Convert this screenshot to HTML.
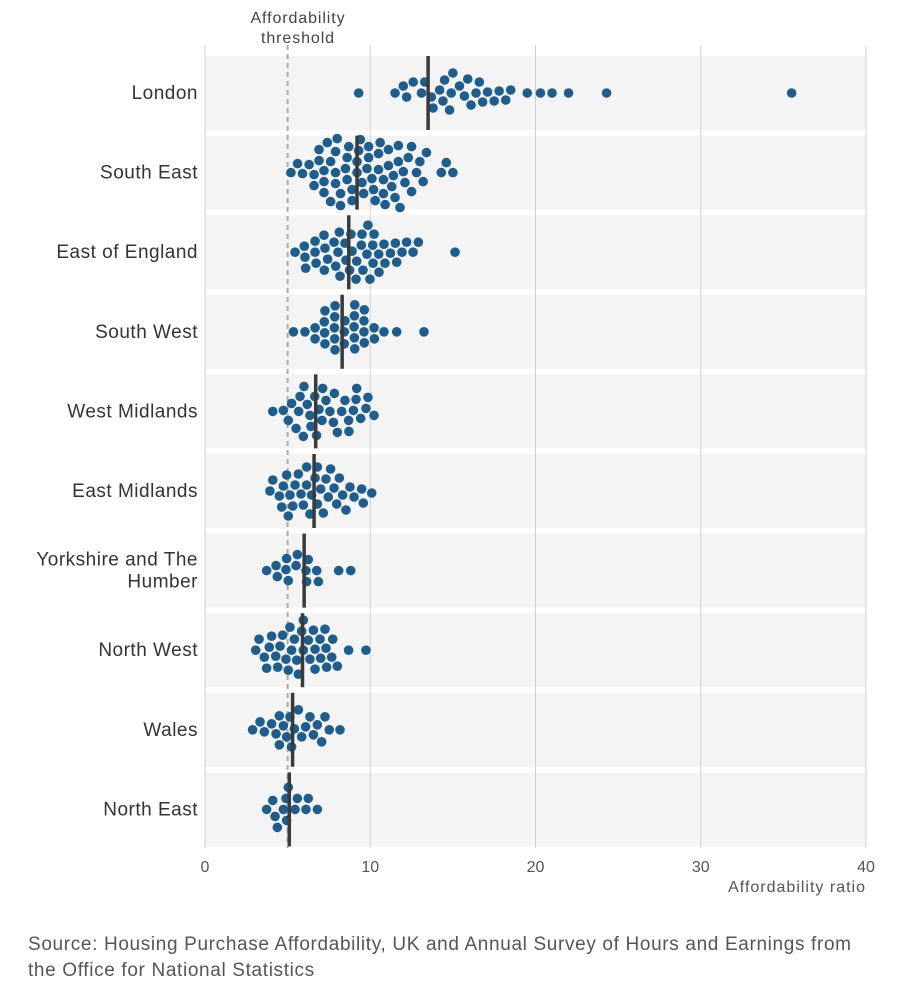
<!DOCTYPE html>
<html><head><meta charset="utf-8"><style>
body{margin:0;background:#fff;font-family:"Liberation Sans",sans-serif;}
svg{display:block}
</style></head><body>
<svg id="c" width="908" height="1000">
<g id="bands"></g><g id="grid"></g><g id="dots"></g><g id="meds"></g><g id="labels"></g>
<text x="298" y="23" text-anchor="middle" font-size="16" letter-spacing="0.9" fill="#444">Affordability</text>
<text x="298" y="43" text-anchor="middle" font-size="16" letter-spacing="0.9" fill="#444">threshold</text>
<text x="866" y="892" text-anchor="end" font-size="16" letter-spacing="1" fill="#555">Affordability ratio</text>
<text x="28" y="950" font-size="19" letter-spacing="0.65" fill="#555">Source: Housing Purchase Affordability, UK and Annual Survey of Hours and Earnings from</text>
<text x="28" y="976" font-size="19" letter-spacing="0.65" fill="#555">the Office for National Statistics</text>
</svg>
<script>
const regions=["London","South East","East of England","South West","West Midlands","East Midlands","Yorkshire and The Humber","North West","Wales","North East"];
const medians=[13.5,9.2,8.7,8.3,6.7,6.6,6.0,5.9,5.3,5.1];
const threshold=5;
const xTicks=[0,10,20,30,40];
const london=[9.3,11.5,12.0,12.2,12.6,13.1,13.3,13.7,13.8,14.2,14.4,14.5,14.8,14.9,15.0,15.4,15.7,15.9,16.1,16.4,16.6,16.8,17.1,17.5,17.8,18.2,18.5,19.5,20.3,21.0,22.0,24.3,35.5];
const southEast=[7.4,8.0,8.7,9.4,10.1,10.8,11.5,6.6,7.2,7.9,8.5,9.2,9.8,10.5,11.1,11.8,12.5,13.2,5.6,6.3,6.9,7.6,8.2,8.9,9.5,10.2,10.8,11.4,12.1,12.8,13.4,14.6,5.2,5.9,6.6,7.2,7.9,8.6,9.2,9.9,10.5,11.1,11.7,12.3,13.0,14.3,15.0,6.9,7.6,8.2,8.9,9.6,10.3,10.9,11.7,12.5,7.2,7.9,8.6,9.3,9.9,10.6,11.3,12.0];
const eastEngland=[5.45,6.01,6.05,6.09,6.66,6.66,6.72,7.20,7.22,7.26,7.42,7.81,7.91,8.05,8.13,8.17,8.47,8.53,8.75,8.83,8.90,9.14,9.18,9.46,9.50,9.56,9.80,9.86,9.98,10.15,10.17,10.23,10.51,10.53,10.83,10.89,11.22,11.52,11.60,11.92,12.20,12.59,12.91,15.13];
const southWest=[5.35,6.05,6.66,6.66,7.22,7.24,7.26,7.26,7.83,7.85,7.85,7.87,7.87,8.43,8.43,8.47,9.02,9.04,9.04,9.06,9.06,9.62,9.62,9.64,9.64,10.23,10.25,10.83,11.60,13.25];
const westMidlands=[4.10,4.74,5.04,5.24,5.51,5.67,5.75,5.95,5.99,6.19,6.35,6.41,6.64,6.75,6.90,7.08,7.12,7.32,7.56,7.77,7.83,8.01,8.27,8.47,8.69,8.71,8.98,9.14,9.18,9.42,9.74,9.86,10.23];
const eastMidlands=[3.93,4.10,4.50,4.64,4.74,4.94,5.04,5.14,5.31,5.45,5.65,5.81,5.95,6.15,6.15,6.35,6.45,6.66,6.80,6.80,7.00,7.16,7.32,7.46,7.60,7.81,7.97,8.13,8.33,8.53,8.77,9.02,9.48,9.58,10.09];
const yorkshire=[3.73,4.30,4.38,4.90,4.94,5.04,5.51,5.59,6.11,6.15,6.25,6.76,6.86,8.09,8.82];
const northWest=[3.07,3.27,3.59,3.73,3.89,4.03,4.28,4.40,4.54,4.70,4.90,5.04,5.14,5.24,5.41,5.55,5.65,5.85,5.95,5.95,6.25,6.35,6.56,6.66,6.66,6.96,7.00,7.26,7.32,7.36,7.67,7.73,8.01,8.69,9.74];
const wales=[2.88,3.33,3.59,4.03,4.30,4.50,4.50,4.74,4.94,5.14,5.24,5.41,5.65,5.85,6.09,6.35,6.56,6.80,7.06,7.26,7.52,8.17];
const northEast=[3.73,4.10,4.24,4.38,4.74,4.90,4.94,5.04,5.45,5.59,6.11,6.25,6.80];
const series=[london,southEast,eastEngland,southWest,westMidlands,eastMidlands,yorkshire,northWest,wales,northEast];

const NS="http://www.w3.org/2000/svg";
const X0=205,X1=866,xMax=40;
const x=v=>X0+(X1-X0)*v/xMax;
const rowY=i=>93+79.6*i;
const bandH=74;
function mk(tag,attrs,parent){const e=document.createElementNS(NS,tag);for(const k in attrs)e.setAttribute(k,attrs[k]);document.getElementById(parent).appendChild(e);return e;}

regions.forEach((r,i)=>{
  const b=mk('rect',{x:X0,y:rowY(i)-bandH/2,width:X1-X0,height:bandH,fill:'#f4f4f4'},'bands');
  
  
  const lines=r==="Yorkshire and The Humber"?["Yorkshire and The","Humber"]:[r];
  lines.forEach((ln,j)=>{
    const t=mk('text',{x:198,y:rowY(i)+6+(j-(lines.length-1)/2)*22,'text-anchor':'end','font-size':19,'letter-spacing':0.5,fill:'#333'},'labels');
    t.textContent=ln;
    
    
  });
});
xTicks.forEach(v=>{
  const l=mk('line',{x1:x(v),x2:x(v),y1:45,y2:848,stroke:'#d0d0d0','stroke-width':1},'grid');
  
  
  const t=mk('text',{x:x(v),y:872,'text-anchor':'middle','font-size':16,fill:'#555'},'grid');
  t.textContent=v;
  
  
});
const th=mk('line',{x1:x(threshold),x2:x(threshold),y1:45,y2:848,stroke:'#aaa','stroke-width':2,'stroke-dasharray':'5,4'},'grid');



const R=4.8,D=10.6,STEP=1;
series.forEach((vals,i)=>{
  const cy=rowY(i);
  const placed=[];
  [...vals].sort((a,b)=>a-b).forEach(v=>{
    const px=x(v);
    let best=0;
    outer: for(let k=0;k<60;k++){
      const cands=k===0?[0]:[-k*STEP,k*STEP];
      for(const py of cands){
        if(placed.every(p=>(p[0]-px)**2+(p[1]-py)**2>=D*D)){best=py;break outer;}
      }
    }
    placed.push([px,best]);
    const c=mk('circle',{cx:px,cy:cy+best,r:R,fill:'#1f5d8c'},'dots');
    
    
  });
  const m=mk('line',{x1:x(medians[i]),x2:x(medians[i]),y1:cy-bandH/2,y2:cy+bandH/2,stroke:'#3a3a3a','stroke-width':3.5},'meds');
  
  
});
</script>
</body></html>
